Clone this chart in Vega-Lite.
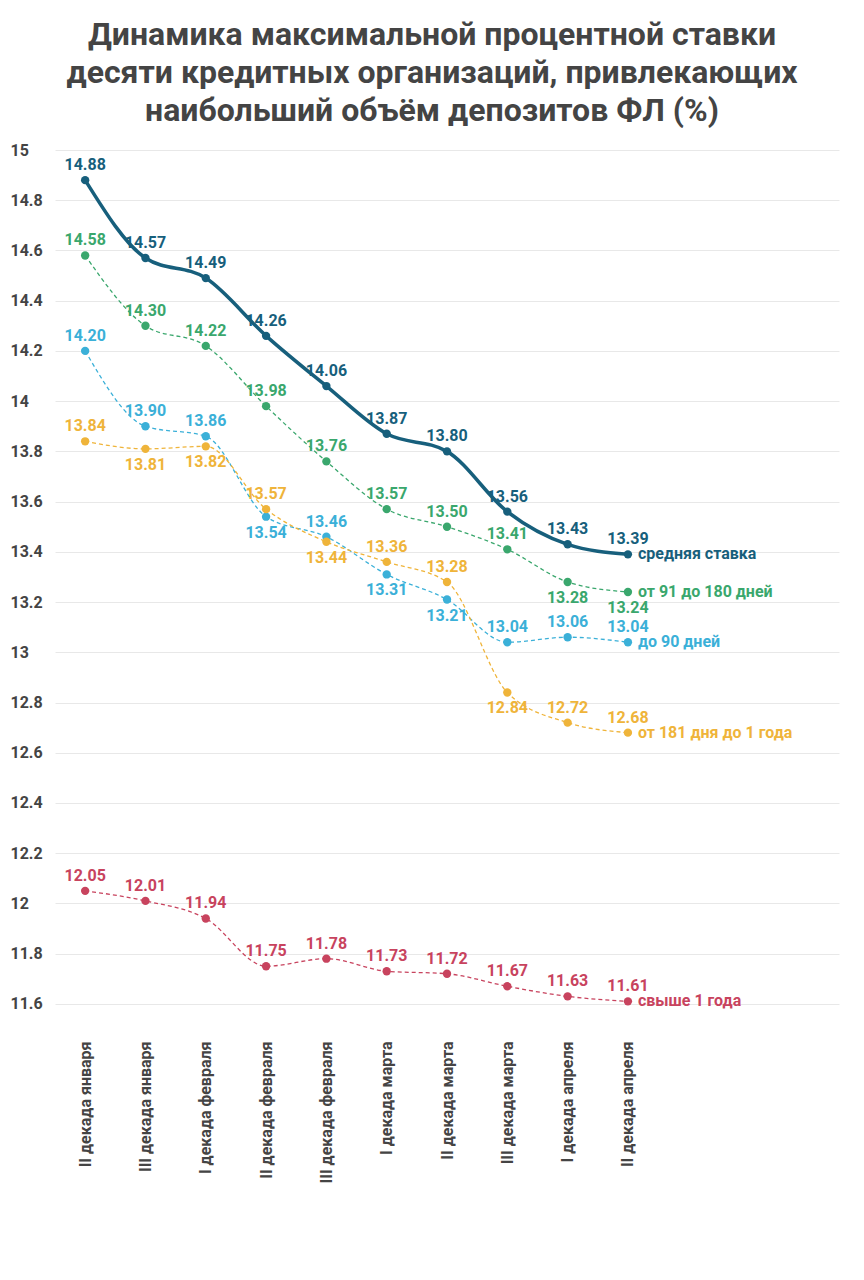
{
  "$schema": "https://vega.github.io/schema/vega-lite/v6.json",
  "width": 784,
  "height": 879,
  "autosize": "none",
  "padding": {"left": 55, "top": 150, "right": 25, "bottom": 251},
  "background": "white",
  "title": {
    "text": ["Динамика максимальной процентной ставки", "десяти кредитных организаций, привлекающих", "наибольший объём депозитов ФЛ (%)"],
    "font": "Roboto", "fontSize": 32, "fontWeight": "bold", "color": "#444444",
    "lineHeight": 38, "offset": 14, "anchor": "middle", "dx": -15
  },
  "config": {"view": {"stroke": null}, "font": "Roboto"},
  "data": {"values": [
    {"d":"II декада января","s":"avg","v":14.88,"side":"up"},
    {"d":"III декада января","s":"avg","v":14.57,"side":"up"},
    {"d":"I декада февраля","s":"avg","v":14.49,"side":"up"},
    {"d":"II декада февраля","s":"avg","v":14.26,"side":"up"},
    {"d":"III декада февраля","s":"avg","v":14.06,"side":"up"},
    {"d":"I декада марта","s":"avg","v":13.87,"side":"up"},
    {"d":"II декада марта","s":"avg","v":13.80,"side":"up"},
    {"d":"III декада марта","s":"avg","v":13.56,"side":"up"},
    {"d":"I декада апреля","s":"avg","v":13.43,"side":"up"},
    {"d":"II декада апреля","s":"avg","v":13.39,"side":"up","name":"средняя ставка"},
    {"d":"II декада января","s":"g","v":14.58,"side":"up"},
    {"d":"III декада января","s":"g","v":14.30,"side":"up"},
    {"d":"I декада февраля","s":"g","v":14.22,"side":"up"},
    {"d":"II декада февраля","s":"g","v":13.98,"side":"up"},
    {"d":"III декада февраля","s":"g","v":13.76,"side":"up"},
    {"d":"I декада марта","s":"g","v":13.57,"side":"up"},
    {"d":"II декада марта","s":"g","v":13.50,"side":"up"},
    {"d":"III декада марта","s":"g","v":13.41,"side":"up"},
    {"d":"I декада апреля","s":"g","v":13.28,"side":"down"},
    {"d":"II декада апреля","s":"g","v":13.24,"side":"down","name":"от 91 до 180 дней"},
    {"d":"II декада января","s":"b","v":14.20,"side":"up"},
    {"d":"III декада января","s":"b","v":13.90,"side":"up"},
    {"d":"I декада февраля","s":"b","v":13.86,"side":"up"},
    {"d":"II декада февраля","s":"b","v":13.54,"side":"down"},
    {"d":"III декада февраля","s":"b","v":13.46,"side":"up"},
    {"d":"I декада марта","s":"b","v":13.31,"side":"down"},
    {"d":"II декада марта","s":"b","v":13.21,"side":"down"},
    {"d":"III декада марта","s":"b","v":13.04,"side":"up"},
    {"d":"I декада апреля","s":"b","v":13.06,"side":"up"},
    {"d":"II декада апреля","s":"b","v":13.04,"side":"up","name":"до 90 дней"},
    {"d":"II декада января","s":"y","v":13.84,"side":"up"},
    {"d":"III декада января","s":"y","v":13.81,"side":"down"},
    {"d":"I декада февраля","s":"y","v":13.82,"side":"down"},
    {"d":"II декада февраля","s":"y","v":13.57,"side":"up"},
    {"d":"III декада февраля","s":"y","v":13.44,"side":"down"},
    {"d":"I декада марта","s":"y","v":13.36,"side":"up"},
    {"d":"II декада марта","s":"y","v":13.28,"side":"up"},
    {"d":"III декада марта","s":"y","v":12.84,"side":"down"},
    {"d":"I декада апреля","s":"y","v":12.72,"side":"up"},
    {"d":"II декада апреля","s":"y","v":12.68,"side":"up","name":"от 181 дня до 1 года"},
    {"d":"II декада января","s":"r","v":12.05,"side":"up"},
    {"d":"III декада января","s":"r","v":12.01,"side":"up"},
    {"d":"I декада февраля","s":"r","v":11.94,"side":"up"},
    {"d":"II декада февраля","s":"r","v":11.75,"side":"up"},
    {"d":"III декада февраля","s":"r","v":11.78,"side":"up"},
    {"d":"I декада марта","s":"r","v":11.73,"side":"up"},
    {"d":"II декада марта","s":"r","v":11.72,"side":"up"},
    {"d":"III декада марта","s":"r","v":11.67,"side":"up"},
    {"d":"I декада апреля","s":"r","v":11.63,"side":"up"},
    {"d":"II декада апреля","s":"r","v":11.61,"side":"up","name":"свыше 1 года"}
  ]},
  "encoding": {
    "x": {"field": "d", "type": "nominal", "sort": null,
      "scale": {"type": "point", "padding": 0.5, "domain": ["II декада января","III декада января","I декада февраля","II декада февраля","III декада февраля","I декада марта","II декада марта","III декада марта","I декада апреля","II декада апреля","e1","e2","e3"]},
      "axis": {"title": null, "labelAngle": -90, "labelFontWeight": "bold", "labelFontSize": 16, "labelColor": "#444444", "labelPadding": 12, "ticks": false, "domain": false, "grid": false, "labelExpr": "indexof(datum.value,'e')==0 ? '' : datum.value"}},
    "y": {"field": "v", "type": "quantitative",
      "scale": {"domain": [11.5, 15], "zero": false, "nice": false},
      "axis": {"title": null, "values": [11.6,11.8,12,12.2,12.4,12.6,12.8,13,13.2,13.4,13.6,13.8,14,14.2,14.4,14.6,14.8,15], "format": "~g", "labelAlign": "left", "labelPadding": 45, "labelFontWeight": "bold", "labelFontSize": 16, "labelColor": "#444444", "ticks": false, "domain": false, "gridColor": "#e8e8e8"}},
    "color": {"field": "s", "type": "nominal", "legend": null,
      "scale": {"domain": ["avg","g","b","y","r"], "range": ["#175f7c","#3aa76d","#3bb0d8","#efb43a","#c8435e"]}}
  },
  "layer": [
    {"mark": {"type": "line", "interpolate": "monotone", "strokeWidth": 1.3, "strokeDash": [4, 3]}, "transform": [{"filter": "datum.s != 'avg'"}]},
    {"mark": {"type": "line", "interpolate": "monotone", "strokeWidth": 3.5}, "transform": [{"filter": "datum.s == 'avg'"}]},
    {"mark": {"type": "point", "filled": true, "size": 70, "opacity": 1}},
    {"mark": {"type": "text", "baseline": "alphabetic", "dy": -10, "fontSize": 16, "fontWeight": "bold"}, "transform": [{"filter": "datum.side == 'up'"}], "encoding": {"text": {"field": "v", "type": "quantitative", "format": ".2f"}}},
    {"mark": {"type": "text", "baseline": "top", "dy": 8, "fontSize": 16, "fontWeight": "bold"}, "transform": [{"filter": "datum.side == 'down'"}], "encoding": {"text": {"field": "v", "type": "quantitative", "format": ".2f"}}},
    {"mark": {"type": "text", "align": "left", "dx": 10, "fontSize": 16, "fontWeight": "bold"}, "transform": [{"filter": "datum.name"}], "encoding": {"text": {"field": "name"}}}
  ]
}
